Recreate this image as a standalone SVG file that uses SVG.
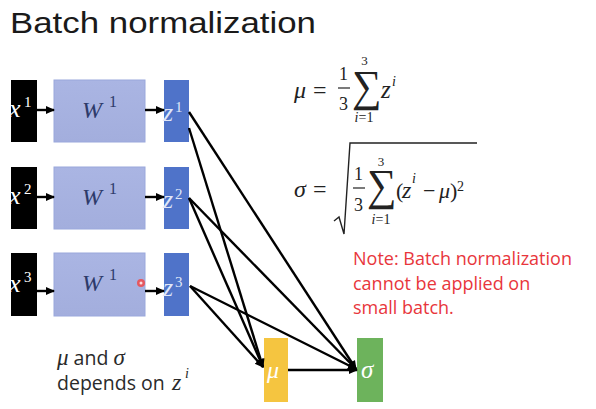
<svg xmlns="http://www.w3.org/2000/svg" width="596" height="409" viewBox="0 0 596 409">
<style>
.title{font-family:"Liberation Sans",Arial,sans-serif;font-size:30px;fill:#1a1a1a}
.m{font-family:"Liberation Serif","DejaVu Serif",serif;font-style:italic}
.r{font-family:"Liberation Serif","DejaVu Serif",serif}
.xbox{fill:#000}
.wbox{fill:url(#wg);stroke:#9aa8dc;stroke-width:1}
.zbox{fill:#4f73c9}
.xl{fill:#fff}
.wl{fill:#2d3a6a}
.zl{fill:#dfe6f8}
.eq{fill:#222}
.note{font-family:"Open Sans","Liberation Sans",sans-serif;font-size:18px;fill:#e8363c}
.body{font-family:"Open Sans","Liberation Sans",sans-serif;font-size:19.5px;fill:#2a2a2a}
.conn line{stroke:#000;stroke-width:2.4;marker-end:url(#ah)}
</style>
<defs>
<linearGradient id="wg" x1="0" y1="0" x2="0" y2="1">
<stop offset="0" stop-color="#aab5e3"/>
<stop offset="1" stop-color="#a3aedd"/>
</linearGradient>
<marker id="ah" markerWidth="10" markerHeight="10" refX="8" refY="5" orient="auto" markerUnits="userSpaceOnUse">
<path d="M0,1 L9,5 L0,9 Z" fill="#000"/>
</marker>
</defs>
<rect width="596" height="409" fill="#fff"/>
<text class="title" x="10" y="33" textLength="306" lengthAdjust="spacingAndGlyphs">Batch normalization</text>

<g id="x1"><rect class="xbox" x="11" y="80" width="26" height="62"/><text class="m xl" x="9" y="117" font-size="26">x</text><text class="r xl" x="24" y="107" font-size="15">1</text></g>
<g id="w1"><rect class="wbox" x="54" y="80" width="91" height="62"/><text class="m wl" x="82" y="118" font-size="24" textLength="25">W</text><text class="r wl" x="109" y="107" font-size="16">1</text></g>
<g id="z1"><rect class="zbox" x="164" y="80" width="25" height="62"/><text class="m zl" x="163" y="121" font-size="26">z</text><text class="r zl" x="175" y="112" font-size="15">1</text></g>

<g id="x2"><rect class="xbox" x="11" y="167" width="26" height="62"/><text class="m xl" x="9" y="204" font-size="26">x</text><text class="r xl" x="24" y="194" font-size="15">2</text></g>
<g id="w2"><rect class="wbox" x="54" y="167" width="91" height="62"/><text class="m wl" x="82" y="205" font-size="24" textLength="25">W</text><text class="r wl" x="109" y="194" font-size="16">1</text></g>
<g id="z2"><rect class="zbox" x="164" y="167" width="25" height="62"/><text class="m zl" x="163" y="208" font-size="26">z</text><text class="r zl" x="175" y="199" font-size="15">2</text></g>

<g id="x3"><rect class="xbox" x="11" y="253" width="26" height="63"/><text class="m xl" x="9" y="292" font-size="26">x</text><text class="r xl" x="24" y="282" font-size="15">3</text></g>
<g id="w3"><rect class="wbox" x="54" y="253" width="91" height="63"/><text class="m wl" x="82" y="291" font-size="24" textLength="25">W</text><text class="r wl" x="109" y="280" font-size="16">1</text></g>
<g id="z3"><rect class="zbox" x="164" y="253" width="25" height="63"/><text class="m zl" x="163" y="296" font-size="26">z</text><text class="r zl" x="175" y="287" font-size="15">3</text></g>

<g id="mu"><rect x="264" y="338" width="24" height="64" fill="#f5c540"/><text class="m" x="267" y="378" font-size="24" fill="#fff">μ</text></g>
<g id="sigma"><rect x="357" y="338" width="26" height="64" fill="#6db35c"/><text class="m" x="361" y="378" font-size="25" fill="#fff">σ</text></g>

<circle cx="141" cy="283" r="4" fill="#f04848" opacity="0.85"/>
<circle cx="141" cy="283" r="1.5" fill="#fff" opacity="0.8"/>

<g class="conn">
<line x1="37" y1="110" x2="54" y2="110"/>
<line x1="145" y1="110" x2="164" y2="110"/>
<line x1="37" y1="197" x2="54" y2="197"/>
<line x1="145" y1="197" x2="164" y2="197"/>
<line x1="37" y1="291" x2="54" y2="291"/>
<line x1="145" y1="291" x2="164" y2="291"/>
<line x1="189" y1="112" x2="356" y2="369"/>
<line x1="189" y1="128" x2="263" y2="367"/>
<line x1="189" y1="198" x2="263" y2="367"/>
<line x1="189" y1="198" x2="356" y2="369"/>
<line x1="190" y1="286" x2="263" y2="367"/>
<line x1="190" y1="286" x2="356" y2="369"/>
<line x1="288" y1="370" x2="357" y2="370"/>
</g>

<g id="formula-mu" class="eq">
<text class="m" x="294" y="98" font-size="24">μ</text>
<text class="r" x="313" y="98" font-size="24">=</text>
<text class="r" x="339" y="80" font-size="18">1</text>
<line x1="338" y1="88" x2="350" y2="88" stroke="#222" stroke-width="1.2"/>
<text class="r" x="339" y="110" font-size="18">3</text>
<text class="r" x="364.5" y="65" font-size="13" text-anchor="middle">3</text>
<text class="r" x="0" y="0" font-size="36" transform="translate(352,101) scale(1.15,1.22)">∑</text>
<text x="364" y="122" font-size="14" text-anchor="middle" class="r"><tspan class="m">i</tspan>=1</text>
<text class="m" x="381" y="98" font-size="25">z</text>
<text class="m" x="392" y="86" font-size="14">i</text>
</g>

<g id="formula-sigma" class="eq">
<text class="m" x="294" y="197" font-size="24">σ</text>
<text class="r" x="313" y="197" font-size="24">=</text>
<path d="M334,221 L339,217 L344,234 L350,143 L477,143" fill="none" stroke="#222" stroke-width="1.4"/>
<text class="r" x="354" y="180" font-size="18">1</text>
<line x1="353" y1="188" x2="365" y2="188" stroke="#222" stroke-width="1.2"/>
<text class="r" x="354" y="211" font-size="18">3</text>
<text class="r" x="381" y="166" font-size="13" text-anchor="middle">3</text>
<text class="r" x="0" y="0" font-size="36" transform="translate(367,200) scale(1.15,1.22)">∑</text>
<text x="381" y="224" font-size="14" text-anchor="middle" class="r"><tspan class="m">i</tspan>=1</text>
<text class="r" x="396" y="198" font-size="22">(</text>
<text class="m" x="402" y="198" font-size="24">z</text>
<text class="m" x="412" y="183" font-size="14">i</text>
<text class="r" x="423" y="198" font-size="22">−</text>
<text class="m" x="439" y="198" font-size="22">μ</text>
<text class="r" x="450" y="198" font-size="22">)</text>
<text class="r" x="457" y="191" font-size="14">2</text>
</g>

<g id="note">
<text class="note" x="353" y="265">Note: Batch normalization</text>
<text class="note" x="353" y="290">cannot be applied on</text>
<text class="note" x="353" y="314">small batch.</text>
</g>

<g id="caption">
<text class="body" x="57" y="365"><tspan class="m" font-size="23">μ</tspan> and <tspan class="m" font-size="23">σ</tspan></text>
<text class="body" x="57" y="390">depends on</text>
<text class="m" x="172" y="390" font-size="24" fill="#2a2a2a">z</text>
<text class="m" x="185" y="378" font-size="14" fill="#2a2a2a">i</text>
</g>
</svg>
